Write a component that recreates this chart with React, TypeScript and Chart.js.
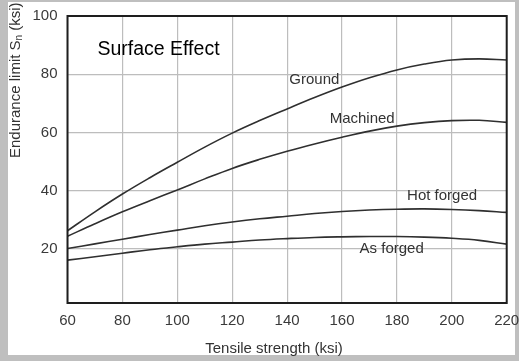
import React, { useEffect, useRef } from "react";
import { Chart, registerables } from "chart.js";

Chart.register(...registerables);

const FONT = '"Liberation Sans", Arial, Helvetica, sans-serif';

// Tensile strength (ksi)
const tensile = [60, 70, 80, 90, 100, 110, 120, 130, 140, 150, 160, 170, 180, 190, 200, 210, 220];
// Endurance limit (ksi) per surface condition
const ground = [26.3, 32.8, 38.9, 44.5, 49.8, 55.0, 59.8, 64.1, 68.1, 72.0, 75.6, 78.8, 81.5, 83.5, 84.9, 85.3, 84.9];
const machined = [24.4, 28.7, 32.8, 36.6, 40.3, 44.1, 47.7, 50.8, 53.6, 56.1, 58.4, 60.5, 62.2, 63.4, 64.1, 64.2, 63.5];
const hotForged = [20.2, 21.8, 23.4, 25.0, 26.5, 28.0, 29.3, 30.4, 31.3, 32.2, 32.9, 33.4, 33.7, 33.8, 33.6, 33.2, 32.6];
const asForged = [16.2, 17.4, 18.6, 19.8, 20.8, 21.7, 22.4, 23.1, 23.6, 24.0, 24.2, 24.3, 24.3, 24.1, 23.7, 23.0, 21.7];

const seriesNames = ["Ground", "Machined", "Hot forged", "As forged"];
const seriesValues = [ground, machined, hotForged, asForged];

const yTickValues = [20, 40, 60, 80, 100];

// Curve labels, anchored in data units (left edge, baseline)
const curveLabelText = ["Ground", "Machined", "Hot forged", "As forged"];
const curveLabelX = [140.8, 155.5, 183.7, 166.4];
const curveLabelY = [76.7, 63.3, 36.7, 18.8];

const chartTitle = "Surface Effect";
const xTitle = "Tensile strength (ksi)";

export default function App() {
  const ref = useRef<HTMLCanvasElement>(null);

  useEffect(() => {
    const canvas = ref.current;
    if (!canvas) return;

    const decor = {
      id: "decor",
      beforeDraw(chart: any) {
        const ctx = chart.ctx;
        ctx.save();
        ctx.fillStyle = "#bfbfbf";
        ctx.fillRect(0, 0, chart.width, chart.height);
        ctx.fillStyle = "#ffffff";
        ctx.fillRect(8, 2, 507, 353);
        ctx.restore();
      },
      afterDatasetsDraw(chart: any) {
        const { ctx, chartArea: a, scales } = chart;
        ctx.save();
        // frame
        ctx.strokeStyle = "#1e1e1e";
        ctx.lineWidth = 2;
        ctx.strokeRect(a.left, a.top, a.right - a.left, a.bottom - a.top);

        // curve labels
        ctx.fillStyle = "#333333";
        ctx.font = `15px ${FONT}`;
        ctx.textAlign = "left";
        ctx.textBaseline = "alphabetic";
        curveLabelText.forEach((t, i) => {
          ctx.fillText(t, scales.x.getPixelForValue(curveLabelX[i]), scales.y.getPixelForValue(curveLabelY[i]));
        });

        // chart title inside plot
        ctx.fillStyle = "#000000";
        ctx.font = `19.5px ${FONT}`;
        ctx.fillText(chartTitle, scales.x.getPixelForValue(70.9), scales.y.getPixelForValue(86.6));

        // x axis title
        ctx.fillStyle = "#333333";
        ctx.font = `15px ${FONT}`;
        ctx.textAlign = "center";
        ctx.fillText(xTitle, 274, 352.5);

        // y axis title (rotated) with subscript n
        ctx.translate(19.5, 158);
        ctx.rotate(-Math.PI / 2);
        ctx.textAlign = "left";
        let x = 0;
        const p1 = "Endurance limit S";
        ctx.font = `15px ${FONT}`;
        ctx.fillText(p1, x, 0);
        x += ctx.measureText(p1).width;
        ctx.font = `10px ${FONT}`;
        ctx.fillText("n", x, 2);
        x += ctx.measureText("n").width;
        ctx.font = `15px ${FONT}`;
        ctx.fillText(" (ksi)", x, 0);
        ctx.restore();
      },
    };

    const chart = new Chart(canvas, {
      type: "line",
      data: {
        datasets: seriesNames.map((name, i) => ({
          label: name,
          data: tensile.map((t, j) => ({ x: t, y: seriesValues[i][j] })),
          borderColor: "#2f2f2f",
          borderWidth: 1.6,
          pointRadius: 0,
          fill: false,
          tension: 0.4,
        })),
      },
      options: {
        animation: false,
        responsive: false,
        devicePixelRatio: 1,
        layout: { padding: { left: 0, right: 12.3, top: 16, bottom: 0 } },
        plugins: {
          legend: { display: false },
          tooltip: { enabled: false },
        },
        scales: {
          x: {
            type: "linear",
            min: 60,
            max: 220,
            ticks: {
              stepSize: 20,
              padding: 9,
              color: "#3a3a3a",
              font: { family: FONT, size: 15 },
            },
            grid: { color: "#bdbdbd", lineWidth: 1.2, drawTicks: false },
            border: { display: false },
            afterFit: (s: any) => {
              s.height = 58;
              s.paddingLeft = 0;
              s.paddingRight = 0;
            },
          },
          y: {
            type: "linear",
            min: 1.5,
            max: 100,
            afterBuildTicks: (s: any) => {
              s.ticks = yTickValues.map((v) => ({ value: v }));
            },
            ticks: {
              padding: 10,
              color: "#3a3a3a",
              font: { family: FONT, size: 15 },
            },
            grid: { color: "#bdbdbd", lineWidth: 1.2, drawTicks: false },
            border: { display: false },
            afterFit: (s: any) => {
              s.width = 67.5;
              s.paddingTop = 0;
              s.paddingBottom = 0;
            },
          },
        },
      },
      plugins: [decor],
    });

    return () => chart.destroy();
  }, []);

  return (
    <canvas
      ref={ref}
      width={519}
      height={361}
      style={{ position: "fixed", left: 0, top: 0, width: 519, height: 361, display: "block" }}
    />
  );
}
